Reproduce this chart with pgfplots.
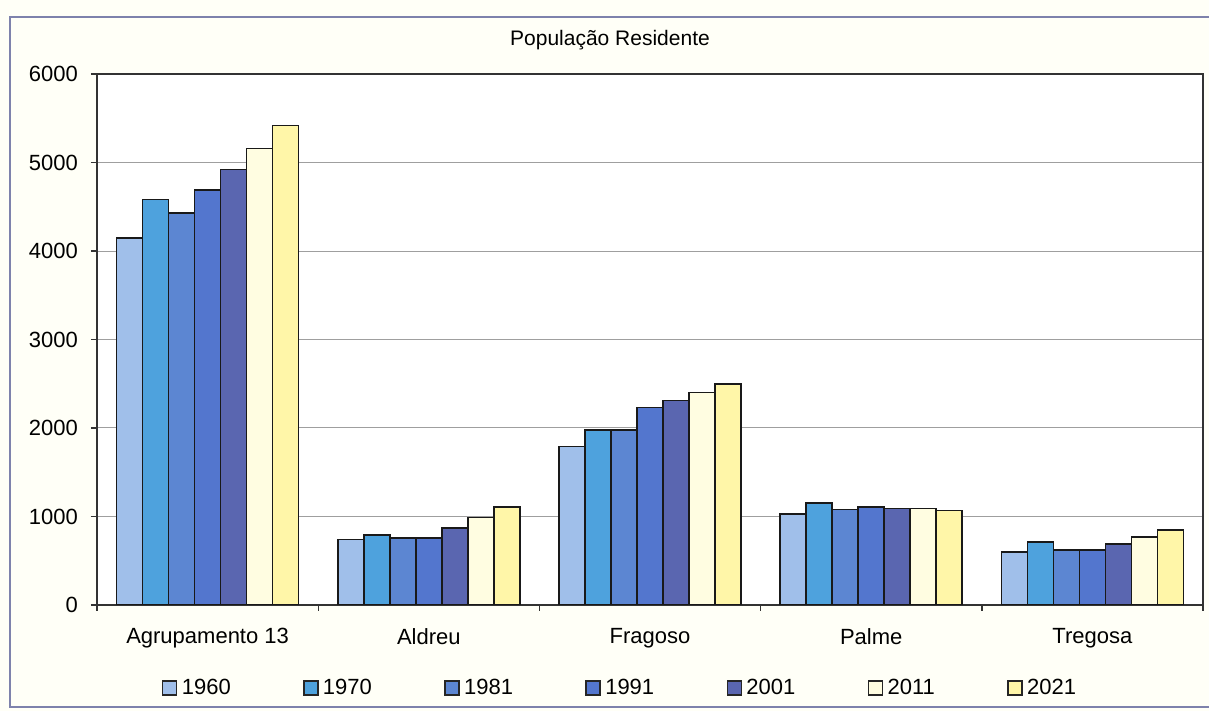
\documentclass[border=0pt]{standalone}
\usepackage{pgfplots}
\pgfplotsset{compat=1.18}
\usepackage{fontspec}
\setmainfont{Liberation Sans}

\definecolor{c1960}{HTML}{A0BFEA}
\definecolor{c1970}{HTML}{4EA2DD}
\definecolor{c1981}{HTML}{5C86D2}
\definecolor{c1991}{HTML}{5376CE}
\definecolor{c2001}{HTML}{5A66B0}
\definecolor{c2011}{HTML}{FFFDE1}
\definecolor{c2021}{HTML}{FFF6A8}
\definecolor{frame}{HTML}{7E82AC}

\begin{document}
\begin{tikzpicture}
\useasboundingbox (0,0) rectangle (604.5pt,355.5pt);
\fill[white!97!yellow] (0,0) rectangle (604.5pt,355.5pt);
\begin{scope}
\clip (0,0) rectangle (604.5pt,355.5pt);
\draw[frame, line width=0.9pt] (5pt,1.8pt) rectangle (620pt,347pt);
\end{scope}
\node[font=\fontsize{10.5}{12}\selectfont] at (305pt,335.5pt) {População Residente};
\begin{axis}[
    at={(48.5pt,53pt)}, anchor=south west,
    scale only axis, width=553pt, height=265.5pt,
    axis background/.style={fill=white},
    ymin=0, ymax=6000, ytick distance=1000,
    xmin=-0.5, xmax=4.5,
    xtick={-0.5,0.5,...,4.5},
    x tick label as interval,
    xticklabels={Agrupamento 13,Aldreu,Fragoso,Palme,Tregosa},
    xticklabel style={yshift=-5pt},
    ybar=0pt, bar width=13pt,
    ymajorgrids, grid style={gray!75, line width=0.5pt},
    axis line style={black!80, line width=0.8pt},
    tick style={black!80, line width=0.7pt},
    tick pos=left, tick align=outside, major tick length=3pt,
    yticklabel style={xshift=-3pt},
    ticklabel style={font=\fontsize{11}{13}\selectfont},
    /pgf/number format/assume math mode=true,
    /pgf/number format/1000 sep={},
    legend image code/.code={\draw[#1, draw=black!85, line width=0.7pt] (0pt,-3.5pt) rectangle (7pt,3.5pt);},
    legend columns=7,
    legend style={at={(0.474,-0.156)}, anchor=center, draw=none, fill=none,
        font=\fontsize{11}{13}\selectfont,
        /tikz/every even column/.append style={column sep=34pt},
        nodes={inner sep=2.2pt}},
    every axis plot/.append style={draw=black!90, line width=0.8pt},
]
\addplot[fill=c1960] coordinates {(0,4150) (1,740) (2,1790) (3,1030) (4,600)};
\addplot[fill=c1970] coordinates {(0,4580) (1,790) (2,1980) (3,1150) (4,710)};
\addplot[fill=c1981] coordinates {(0,4430) (1,760) (2,1980) (3,1080) (4,620)};
\addplot[fill=c1991] coordinates {(0,4690) (1,760) (2,2230) (3,1110) (4,620)};
\addplot[fill=c2001] coordinates {(0,4920) (1,870) (2,2310) (3,1090) (4,690)};
\addplot[fill=c2011] coordinates {(0,5160) (1,990) (2,2400) (3,1090) (4,770)};
\addplot[fill=c2021] coordinates {(0,5420) (1,1110) (2,2500) (3,1070) (4,850)};
\legend{1960,1970,1981,1991,2001,2011,2021}
\end{axis}
\end{tikzpicture}
\end{document}
